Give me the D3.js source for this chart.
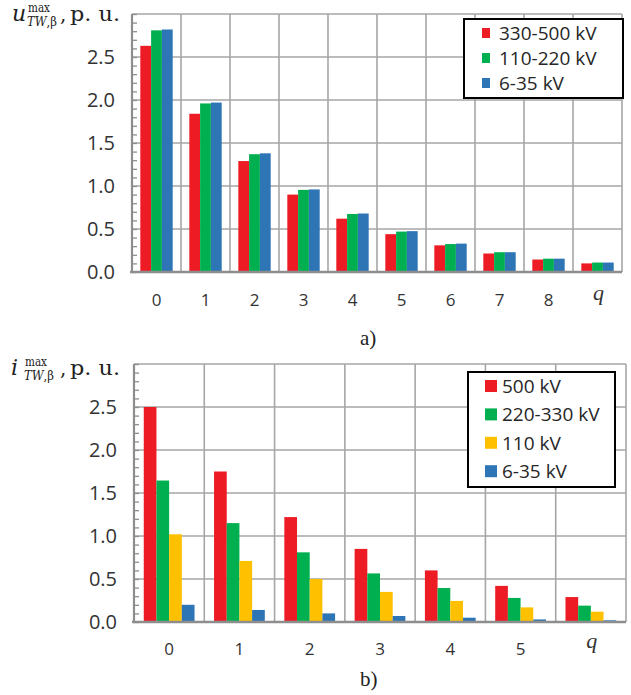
<!DOCTYPE html>
<html>
<head>
<meta charset="utf-8">
<script src="https://cdn.jsdelivr.net/npm/d3@7"></script>
<style>
  html, body { margin: 0; padding: 0; background: #fff; }
  svg { display: block; }
</style>
</head>
<body>
<svg id="chart" width="631" height="695"></svg>
<script>
// ---------- DATA ----------
// Chart a) : u_TW,β max
const catsA = ["0", "1", "2", "3", "4", "5", "6", "7", "8", "q"];
const seriesA = ["330-500 kV", "110-220 kV", "6-35 kV"];
const valsA_330_500 = [2.63, 1.84, 1.29, 0.90, 0.62, 0.44, 0.31, 0.215, 0.145, 0.10];
const valsA_110_220 = [2.81, 1.96, 1.37, 0.955, 0.675, 0.47, 0.325, 0.23, 0.155, 0.11];
const valsA_6_35    = [2.82, 1.97, 1.38, 0.96, 0.68, 0.475, 0.33, 0.23, 0.155, 0.11];

// Chart b) : i_TW,β max
const catsB = ["0", "1", "2", "3", "4", "5", "q"];
const seriesB = ["500 kV", "220-330 kV", "110 kV", "6-35 kV"];
const valsB_500     = [2.50, 1.75, 1.22, 0.85, 0.60, 0.42, 0.29];
const valsB_220_330 = [1.645, 1.15, 0.81, 0.565, 0.395, 0.28, 0.19];
const valsB_110     = [1.02, 0.71, 0.50, 0.35, 0.245, 0.17, 0.12];
const valsB_6_35    = [0.20, 0.14, 0.10, 0.07, 0.05, 0.03, 0.02];

const yTickLabels = ["0.0", "0.5", "1.0", "1.5", "2.0", "2.5"];

// ---------- STYLE ----------
const COLORS = {
  red: "#ED1C24", green: "#00B050", yellow: "#FFC000", blue: "#2E75B6"
};
const GRID = "#A6A6A6";
const AXIS = "#8E8E8E";
const TEXT = "#333333";
const SANS = "'Open Sans', 'Noto Sans', sans-serif";
const SERIF = "'Liberation Serif', 'DejaVu Serif', serif";
const MATH = "'DejaVu Serif', 'Liberation Serif', serif";

const svg = d3.select("#chart");

function drawPanel(opts) {
  const { cats, series, values, colors, left, right, top, bottom,
          xLabelY, qLabelY, legend, title, caption } = opts;
  const g = svg.append("g");

  const x0 = d3.scaleBand().domain(cats).range([left, right]).paddingInner(0).paddingOuter(0);
  const x1 = d3.scaleBand().domain(series).range([0, x0.bandwidth()]).paddingInner(0).paddingOuter(0.77);
  const y = d3.scaleLinear().domain([0, 3]).range([bottom, top]);

  // horizontal gridlines (0.5 .. 3.0)
  const gridVals = d3.range(0.5, 3.01, 0.5);
  g.append("g").selectAll("line").data(gridVals).join("line")
    .attr("x1", left).attr("x2", right)
    .attr("y1", d => y(d)).attr("y2", d => y(d))
    .attr("stroke", GRID).attr("stroke-width", 1.6);

  // vertical gridlines at category boundaries
  const bounds = cats.map(c => x0(c) + x0.bandwidth());
  g.append("g").selectAll("line").data(bounds).join("line")
    .attr("x1", d => d).attr("x2", d => d)
    .attr("y1", top).attr("y2", bottom)
    .attr("stroke", GRID).attr("stroke-width", 1.6);

  // bars
  const rows = [];
  cats.forEach((c, i) => series.forEach((s, j) => rows.push({ c, s, v: values[j][i], col: colors[j] })));
  g.append("g").selectAll("rect").data(rows).join("rect")
    .attr("x", d => x0(d.c) + x1(d.s))
    .attr("width", x1.bandwidth())
    .attr("y", d => y(d.v))
    .attr("height", d => y(0) - y(d.v))
    .attr("fill", d => d.col);

  // left axis with minor ticks every 0.1 (pointing inside)
  const yAxis = d3.axisRight(y).tickValues(d3.range(0, 3.001, 0.1)).tickSize(5).tickFormat("");
  const ya = g.append("g").attr("transform", `translate(${left},0)`).call(yAxis);
  ya.select(".domain").attr("stroke", AXIS).attr("stroke-width", 2.2).attr("d", `M0,${top}V${bottom}`);
  ya.selectAll(".tick line").attr("stroke", AXIS).attr("stroke-width", 1.3);

  // y tick labels
  g.append("g").selectAll("text").data(yTickLabels).join("text")
    .attr("x", left - 17)
    .attr("y", d => y(+d))
    .attr("dy", "0.36em")
    .attr("text-anchor", "end")
    .attr("font-family", SANS).attr("font-size", 20).attr("fill", TEXT)
    .text(d => d);

  // bottom axis
  const xAxis = d3.axisBottom(x0).tickSize(0).tickFormat("");
  const xa = g.append("g").attr("transform", `translate(0,${bottom})`).call(xAxis);
  xa.select(".domain").attr("stroke", AXIS).attr("stroke-width", 2.4).attr("d", `M${left - 2},0H${right}`);

  // x labels
  g.append("g").selectAll("text").data(cats).join("text")
    .attr("x", d => x0(d) + x0.bandwidth() / 2 + (d === "q" ? 1 : 0))
    .attr("y", d => d === "q" ? qLabelY : xLabelY)
    .attr("text-anchor", "middle")
    .attr("font-family", d => d === "q" ? SERIF : SANS)
    .attr("font-style", d => d === "q" ? "italic" : "normal")
    .attr("font-size", d => d === "q" ? 22 : 17)
    .attr("fill", TEXT)
    .text(d => d);

  // legend
  const lg = g.append("g");
  lg.append("rect")
    .attr("x", legend.x).attr("y", legend.y).attr("width", legend.w).attr("height", legend.h)
    .attr("fill", "#fff").attr("stroke", "#000").attr("stroke-width", 2);
  series.forEach((s, j) => {
    const cy = legend.firstRow + j * legend.rowStep;
    lg.append("rect")
      .attr("x", legend.swX).attr("y", cy - legend.swH / 2)
      .attr("width", legend.swW).attr("height", legend.swH)
      .attr("fill", colors[j]);
    lg.append("text")
      .attr("x", legend.textX).attr("y", cy).attr("dy", "0.36em")
      .attr("font-family", SANS).attr("font-size", 19).attr("fill", "#262626")
      .text(s);
  });

  // title (math-style label)
  const tg = g.append("g").attr("font-family", MATH).attr("fill", "#222");
  tg.append("text").attr("x", title.x).attr("y", title.base)
    .attr("font-style", "italic").attr("font-size", 22).text(title.sym);
  tg.append("text").attr("x", title.supX).attr("y", title.base - 9.5)
    .attr("font-size", 12).attr("textLength", 22).attr("lengthAdjust", "spacingAndGlyphs").text("max");
  tg.append("text").attr("x", title.supX - 1).attr("y", title.base + 5)
    .attr("font-size", 12).attr("textLength", 30).attr("lengthAdjust", "spacingAndGlyphs")
    .call(t => {
      t.append("tspan").attr("font-style", "italic").text("TW");
      t.append("tspan").text(",β");
    });
  tg.append("text").attr("x", 60).attr("y", title.base)
    .attr("font-size", 20).text(",");
  tg.append("text").attr("x", 70).attr("y", title.base)
    .attr("font-size", 21).attr("textLength", 50).attr("lengthAdjust", "spacingAndGlyphs").text("p. u.");

  // caption
  g.append("text").attr("x", caption.x).attr("y", caption.y)
    .attr("font-family", SERIF).attr("font-size", 21).attr("fill", "#222")
    .text(caption.text);
}

drawPanel({
  cats: catsA, series: seriesA,
  values: [valsA_330_500, valsA_110_220, valsA_6_35],
  colors: [COLORS.red, COLORS.green, COLORS.blue],
  left: 132, right: 622, top: 14, bottom: 272,
  xLabelY: 306, qLabelY: 300,
  legend: { x: 464, y: 19, w: 159, h: 79, firstRow: 33, rowStep: 25,
            swX: 482, swW: 8, swH: 10, textX: 499 },
  title: { x: 12, supX: 28, base: 21, sym: "u" },
  caption: { x: 360, y: 345, text: "a)" }
});

drawPanel({
  cats: catsB, series: seriesB,
  values: [valsB_500, valsB_220_330, valsB_110, valsB_6_35],
  colors: [COLORS.red, COLORS.green, COLORS.yellow, COLORS.blue],
  left: 134, right: 626, top: 364, bottom: 622,
  xLabelY: 655, qLabelY: 648,
  legend: { x: 468, y: 372, w: 147, h: 115, firstRow: 386, rowStep: 28.4,
            swX: 485, swW: 12, swH: 12, textX: 502 },
  title: { x: 11, supX: 25, base: 375, sym: "i" },
  caption: { x: 360, y: 686, text: "b)" }
});
</script>
</body>
</html>
